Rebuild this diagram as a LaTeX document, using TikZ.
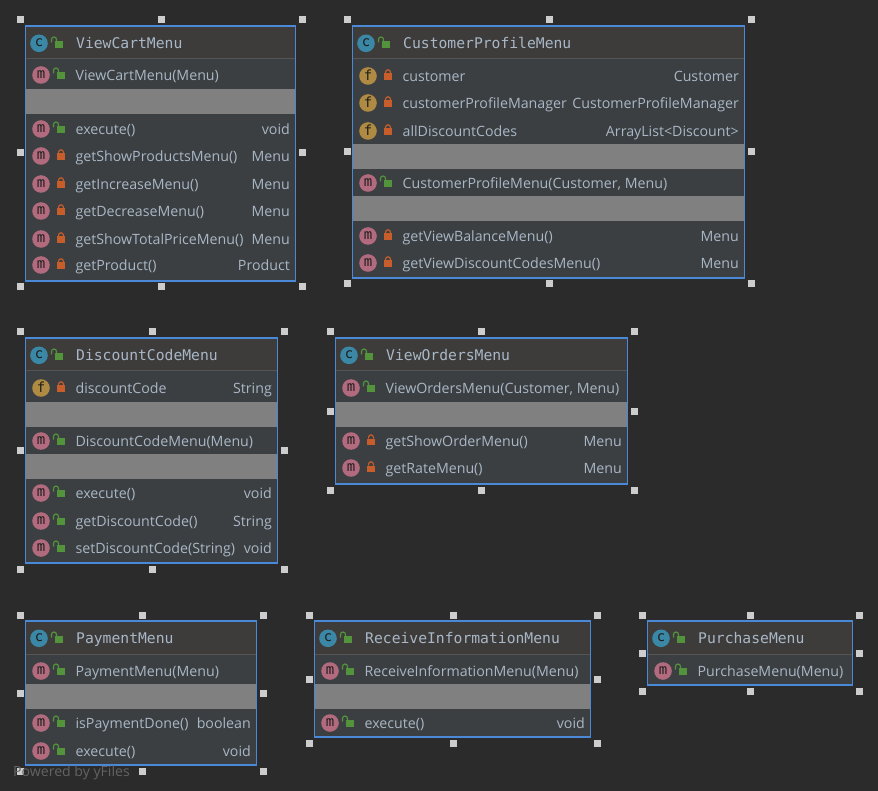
\documentclass[tikz,border=0pt]{standalone}
\usepackage{fontspec}
\setmainfont{Open Sans}
\newfontfamily\titlefont{DejaVu Sans Mono}
\newfontfamily\iconfont{DejaVu Sans Mono}
\definecolor{bgc}{HTML}{2B2B2B}
\definecolor{bodyc}{HTML}{3C3F41}
\definecolor{headc}{HTML}{3D3C3B}
\definecolor{sepc}{HTML}{555555}
\definecolor{bandc}{HTML}{808080}
\definecolor{edgec}{HTML}{4A88D8}
\definecolor{textc}{HTML}{A9B7C6}
\definecolor{handlec}{HTML}{CDCDCD}
\definecolor{cicon}{HTML}{3A87A6}
\definecolor{micon}{HTML}{B26A7E}
\definecolor{ficon}{HTML}{AE8A42}
\definecolor{pubc}{HTML}{52933C}
\definecolor{privc}{HTML}{C65D2A}
\definecolor{wmc}{HTML}{636363}
\tikzset{
  x=1pt,y=-1pt,
  handlebox/.style={fill=handlec,minimum size=7pt,inner sep=0pt},
  membertext/.style={text=textc,anchor=base west,inner sep=0pt,font=\fontsize{14.2}{15}\selectfont},
  typetext/.style={text=textc,anchor=base east,inner sep=0pt,font=\fontsize{14.2}{15}\selectfont},
  titletext/.style={text=textc,anchor=base west,inner sep=0pt,font=\titlefont\fontsize{14.7}{16}\selectfont},
  iconcirc/.style={circle,minimum size=17.6pt,inner sep=0pt},
  iconletter/.style={text=bgc!70!black,font=\iconfont\fontsize{14}{14}\selectfont},
}
% lock glyphs: x, y of centre
\newcommand{\publock}[2]{%
  \fill[pubc] (#1-4,#2-1) rectangle (#1+4,#2+6);
  \draw[pubc,line width=1.2pt] (#1-2.5,#2-1) -- (#1-2.5,#2-2.5) arc[start angle=0,end angle=180,radius=2.5,y radius=-2.5] -- (#1-7.5,#2+.5);
}
\newcommand{\privlock}[2]{%
  \fill[privc] (#1-4,#2-.5) rectangle (#1+4,#2+6);
  \draw[privc,line width=1.2pt] (#1-2.4,#2-.5) -- (#1-2.4,#2-1.8) arc[start angle=180,end angle=0,radius=2.4,y radius=-2.4] -- (#1+2.4,#2-.5);
}
% \classframe{id}{x0}{y0}{x1}{y1}{title}{mid handle x}{mid handle y}
\newcommand{\classframe}[8]{%
  \fill[bodyc] (#2-.4,#3) rectangle (#4-.4,#5);
  \fill[headc] (#2-.4,#3) rectangle (#4-.4,#3+33);
  \draw[sepc,line width=1pt] (#2-.4,#3+33) -- (#4-.4,#3+33);
  \node[iconcirc,fill=cicon] at (#2+13,#3+17.3) {};
  \node[iconletter] at (#2+13,#3+16.5) {c};
  \publock{#2+33}{#3+16}
  \node[titletext] (#1title) at (#2+50,#3+22.5) {#6};
  \draw[edgec,line width=1.3pt] (#2-.4,#3) rectangle (#4-.4,#5);
  \node[handlebox] (#1nw) at (#2-6,#3-6) {};
  \node[handlebox] (#1n) at (#7,#3-6) {};
  \node[handlebox] (#1ne) at (#4+6,#3-6) {};
  \node[handlebox] (#1w) at (#2-6,#8) {};
  \node[handlebox] (#1e) at (#4+6,#8) {};
  \node[handlebox] (#1sw) at (#2-6,#5+6) {};
  \node[handlebox] (#1s) at (#7,#5+6) {};
  \node[handlebox] (#1se) at (#4+6,#5+6) {};
}
% \band{x0}{x1}{ytop}
\newcommand{\band}[3]{\fill[bandc] (#1+.2,#3) rectangle (#2-1,#3+25);}
% \mrow{x0}{x1}{y}{color}{letter}{lock macro}{text}{type}
\newcommand{\mrow}[8]{%
  \node[iconcirc,fill=#4] at (#1+15,#3) {};
  \node[iconletter] at (#1+15,#3-.7) {#5};
  #6{#1+35}{#3-2}
  \node[membertext] at (#1+49.4,#3+5.4) {#7};
  \node[typetext] at (#2-6,#3+5.4) {#8};
}
\begin{document}
\begin{tikzpicture}
\useasboundingbox (0,0) rectangle (878,791);
\fill[bgc] (0,0) rectangle (878,791);

% ViewCartMenu
\classframe{vc}{26}{26}{296}{281}{ViewCartMenu}{161}{153}
\band{26}{296}{89}
\mrow{26}{296}{75}{micon}{m}{\publock}{ViewCartMenu(Menu)}{}
\mrow{26}{296}{129}{micon}{m}{\publock}{execute()}{void}
\mrow{26}{296}{156}{micon}{m}{\privlock}{getShowProductsMenu()}{Menu}
\mrow{26}{296}{184}{micon}{m}{\privlock}{getIncreaseMenu()}{Menu}
\mrow{26}{296}{211}{micon}{m}{\privlock}{getDecreaseMenu()}{Menu}
\mrow{26}{296}{239}{micon}{m}{\privlock}{getShowTotalPriceMenu()}{Menu}
\mrow{26}{296}{265}{micon}{m}{\privlock}{getProduct()}{Product}

% CustomerProfileMenu
\classframe{cp}{353}{26}{745}{278}{CustomerProfileMenu}{549}{152}
\band{353}{745}{144}
\band{353}{745}{196}
\mrow{353}{745}{76}{ficon}{f}{\privlock}{customer}{Customer}
\mrow{353}{745}{103}{ficon}{f}{\privlock}{customerProfileManager}{CustomerProfileManager}
\mrow{353}{745}{131}{ficon}{f}{\privlock}{allDiscountCodes}{ArrayList<Discount>}
\mrow{353}{745}{183}{micon}{m}{\publock}{CustomerProfileMenu(Customer, Menu)}{}
\mrow{353}{745}{236}{micon}{m}{\privlock}{getViewBalanceMenu()}{Menu}
\mrow{353}{745}{263}{micon}{m}{\privlock}{getViewDiscountCodesMenu()}{Menu}

% DiscountCodeMenu
\classframe{dc}{26}{338}{278}{563}{DiscountCodeMenu}{152}{450}
\band{26}{278}{402}
\band{26}{278}{454}
\mrow{26}{278}{388}{ficon}{f}{\privlock}{discountCode}{String}
\mrow{26}{278}{441}{micon}{m}{\publock}{DiscountCodeMenu(Menu)}{}
\mrow{26}{278}{493}{micon}{m}{\publock}{execute()}{void}
\mrow{26}{278}{521}{micon}{m}{\publock}{getDiscountCode()}{String}
\mrow{26}{278}{548}{micon}{m}{\publock}{setDiscountCode(String)}{void}

% ViewOrdersMenu
\classframe{vo}{336}{338}{628}{484}{ViewOrdersMenu}{481}{411}
\band{336}{628}{402}
\mrow{336}{628}{388}{micon}{m}{\publock}{ViewOrdersMenu(Customer, Menu)}{}
\mrow{336}{628}{441}{micon}{m}{\privlock}{getShowOrderMenu()}{Menu}
\mrow{336}{628}{468}{micon}{m}{\privlock}{getRateMenu()}{Menu}

% PaymentMenu
\classframe{pm}{26}{621}{257}{765}{PaymentMenu}{142}{693}
\band{26}{257}{684}
\mrow{26}{257}{671}{micon}{m}{\publock}{PaymentMenu(Menu)}{}
\mrow{26}{257}{723}{micon}{m}{\publock}{isPaymentDone()}{boolean}
\mrow{26}{257}{751}{micon}{m}{\publock}{execute()}{void}

% ReceiveInformationMenu
\classframe{ri}{315}{621}{591}{737}{ReceiveInformationMenu}{453}{679}
\band{315}{591}{684}
\mrow{315}{591}{671}{micon}{m}{\publock}{ReceiveInformationMenu(Menu)}{}
\mrow{315}{591}{723}{micon}{m}{\publock}{execute()}{void}

% PurchaseMenu
\classframe{pu}{648}{621}{853}{685}{PurchaseMenu}{750}{653}
\mrow{648}{853}{671}{micon}{m}{\publock}{PurchaseMenu(Menu)}{}

% watermark
\node[text=wmc,anchor=base west,inner sep=0pt,font=\fontsize{14.1}{15}\selectfont] (wm) at (13,776) {Powered by yFiles};
\end{tikzpicture}
\end{document}
